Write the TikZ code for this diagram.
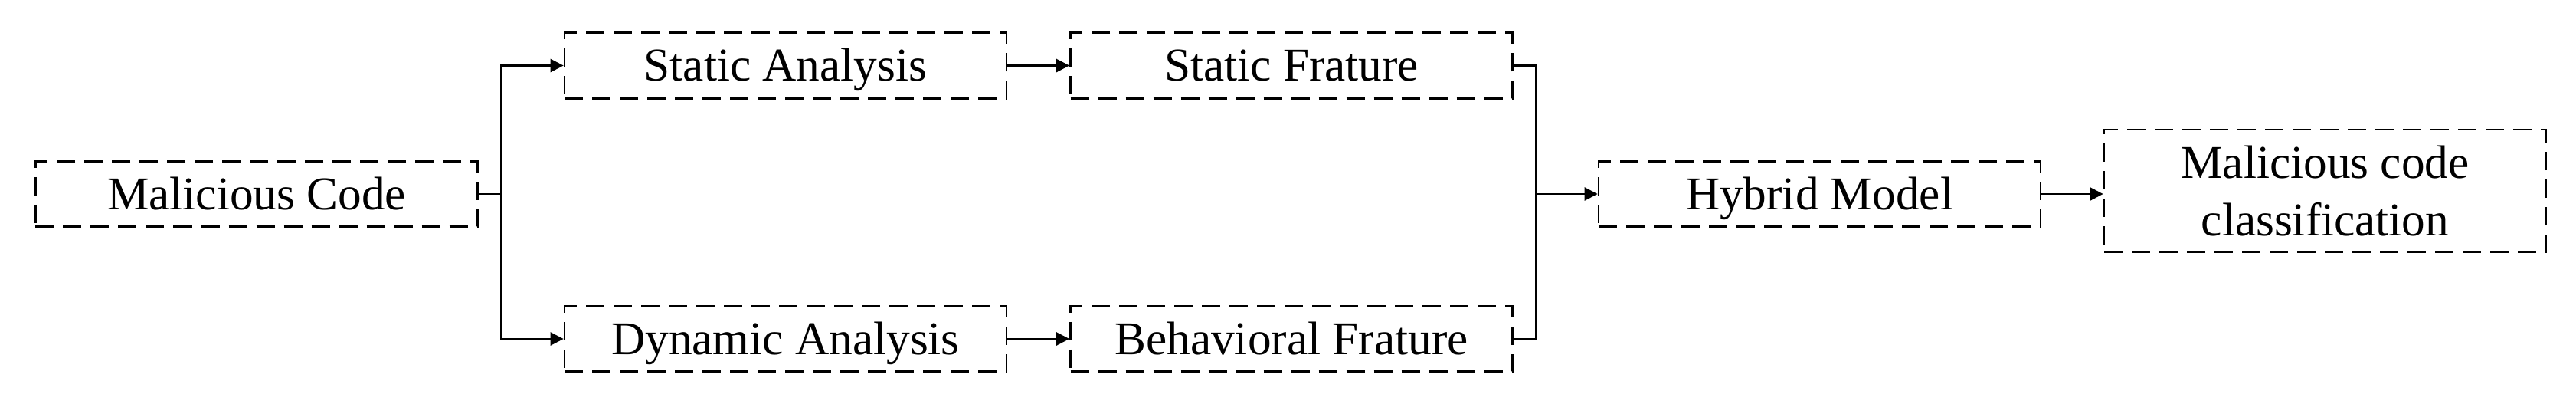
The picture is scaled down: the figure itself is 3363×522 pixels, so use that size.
\documentclass[tikz,border=0pt]{standalone}
\usepackage{fontspec}
\setmainfont{Liberation Serif}
\usetikzlibrary{arrows.meta}
\begin{document}
\begin{tikzpicture}[x=0.2pt,y=-0.2pt,
  box/.style={draw=black,line width=0.55pt,dash pattern=on 4.8pt off 2.4pt,
    minimum width=115.4pt,minimum height=17.1pt,inner sep=0pt,align=center,
    font=\fontsize{12.26}{15}\selectfont},
  oneline/.style={box,text height=8.1pt,text depth=0pt},
  conn/.style={draw=black,line width=0.5pt},
  arr/.style={conn,-{Triangle[length=3.4pt,width=3.4pt]}}]
\useasboundingbox (0,0) rectangle (3363,522);
\node[oneline] (mc)  at (335,253)   {Malicious Code};
\node[oneline] (sa)  at (1025.5,85.5) {Static Analysis};
\node[oneline] (da)  at (1025.5,442)  {Dynamic Analysis};
\node[oneline] (sf)  at (1686,85.5)   {Static Frature};
\node[oneline] (bf)  at (1686,442)    {Behavioral Frature};
\node[oneline] (hm)  at (2375.5,253)  {Hybrid Model};
\node[box,minimum height=32pt] (mcc) at (3035.5,249) {Malicious code\\classification};
\coordinate (br) at (654,253);
\coordinate (mg) at (2005,253);
\draw[conn] (mc.east) -- (br);
\draw[arr] (br) |- (sa.west);
\draw[arr] (br) |- (da.west);
\draw[arr] (sa.east) -- (sf.west);
\draw[arr] (da.east) -- (bf.west);
\draw[conn] (sf.east) -| (mg);
\draw[conn] (bf.east) -| (mg);
\draw[arr] (mg) -- (hm.west);
\draw[arr] (hm.east) -- (mcc.west |- hm.east);
\end{tikzpicture}
\end{document}
